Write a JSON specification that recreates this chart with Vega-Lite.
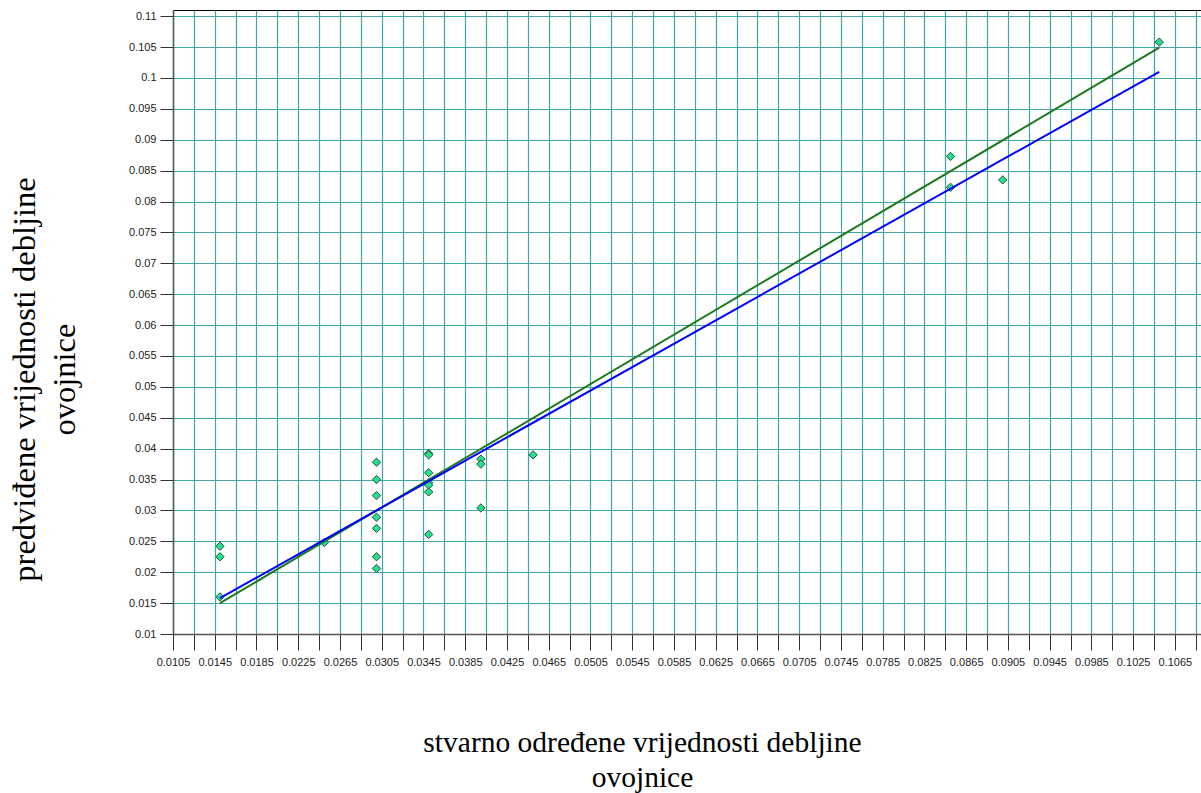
{
  "$schema": "https://vega.github.io/schema/vega-lite/v6.json",
  "width": 1028,
  "height": 624,
  "autosize": {"type": "none"},
  "padding": {"left": 173, "top": 10, "right": 0, "bottom": 159},
  "background": "white",
  "config": {
    "view": {"stroke": "#000000", "strokeWidth": 1},
    "axis": {
      "labelFont": "Liberation Sans Narrow, Liberation Sans",
      "labelFontSize": 11,
      "labelColor": "#222222",
      "titleFont": "Liberation Serif",
      "titleFontSize": 28,
      "titleFontWeight": "normal",
      "titleColor": "#000000",
      "gridColor": "#3fa6a3",
      "gridOpacity": 1,
      "gridWidth": 1.2,
      "tickColor": "#333333",
      "domainColor": "#555555",
      "domainWidth": 1.5,
      "labelOverlap": false,
      "labelFlush": false,
      "labelBound": false
    }
  },
  "datasets": {
    "points": [
      {"x": 0.015, "y": 0.0242},
      {"x": 0.015, "y": 0.0225},
      {"x": 0.015, "y": 0.0160},
      {"x": 0.025, "y": 0.0248},
      {"x": 0.030, "y": 0.0378},
      {"x": 0.030, "y": 0.0350},
      {"x": 0.030, "y": 0.0324},
      {"x": 0.030, "y": 0.0289},
      {"x": 0.030, "y": 0.0271},
      {"x": 0.030, "y": 0.0225},
      {"x": 0.030, "y": 0.0206},
      {"x": 0.035, "y": 0.0392},
      {"x": 0.035, "y": 0.0390},
      {"x": 0.035, "y": 0.0361},
      {"x": 0.035, "y": 0.0345},
      {"x": 0.035, "y": 0.0341},
      {"x": 0.035, "y": 0.0330},
      {"x": 0.035, "y": 0.0261},
      {"x": 0.040, "y": 0.0383},
      {"x": 0.040, "y": 0.0375},
      {"x": 0.040, "y": 0.0304},
      {"x": 0.045, "y": 0.0390},
      {"x": 0.085, "y": 0.0873},
      {"x": 0.085, "y": 0.0823},
      {"x": 0.090, "y": 0.0835},
      {"x": 0.105, "y": 0.1058}
    ],
    "lines": [
      {"x": 0.015, "y": 0.0150, "series": "green"},
      {"x": 0.105, "y": 0.1049, "series": "green"},
      {"x": 0.015, "y": 0.0158, "series": "blue"},
      {"x": 0.105, "y": 0.1010, "series": "blue"}
    ]
  },
  "encoding": {
    "x": {
      "field": "x",
      "type": "quantitative",
      "scale": {"domain": [0.0105, 0.109], "zero": false, "nice": false},
      "axis": {
        "values": [0.0105,0.0125,0.0145,0.0165,0.0185,0.0205,0.0225,0.0245,0.0265,0.0285,0.0305,0.0325,0.0345,0.0365,0.0385,0.0405,0.0425,0.0445,0.0465,0.0485,0.0505,0.0525,0.0545,0.0565,0.0585,0.0605,0.0625,0.0645,0.0665,0.0685,0.0705,0.0725,0.0745,0.0765,0.0785,0.0805,0.0825,0.0845,0.0865,0.0885,0.0905,0.0925,0.0945,0.0965,0.0985,0.1005,0.1025,0.1045,0.1065,0.1085],
        "labelExpr": "round((datum.value - 0.0105) / 0.002) % 2 == 0 ? format(datum.value, '.4f') : ''",
        "tickSize": 16,
        "labelPadding": 6,
        "title": ["stvarno određene vrijednosti debljine", "ovojnice"],
        "titleFont": "Liberation Serif",
        "titleFontSize": 29.5,
        "titleX": 469,
        "titleY": 117,
        "titleAnchor": "middle",
        "titleAlign": "center",
        "titleBaseline": "alphabetic",
        "titleLineHeight": 35
      }
    },
    "y": {
      "field": "y",
      "type": "quantitative",
      "scale": {"domain": [0.01, 0.111], "zero": false, "nice": false},
      "axis": {
        "values": [0.01,0.015,0.02,0.025,0.03,0.035,0.04,0.045,0.05,0.055,0.06,0.065,0.07,0.075,0.08,0.085,0.09,0.095,0.1,0.105,0.11],
        "format": "~g",
        "tickSize": 13,
        "labelPadding": 4,
        "title": ["predviđene vrijednosti debljine", "ovojnice"],
        "titleFont": "Liberation Serif",
        "titleFontSize": 32.5,
        "titleAngle": -90,
        "titleX": -139,
        "titleY": 369,
        "titleAlign": "center",
        "titleBaseline": "alphabetic",
        "titleLineHeight": 40
      }
    }
  },
  "layer": [
    {
      "data": {"name": "points"},
      "mark": {"type": "point", "shape": "diamond", "filled": true, "size": 70, "fill": "#1ee28c", "stroke": "#3a4a40", "strokeWidth": 1, "opacity": 1}
    },
    {
      "data": {"name": "lines"},
      "mark": {"type": "line", "strokeWidth": 2},
      "encoding": {
        "color": {
          "field": "series",
          "type": "nominal",
          "scale": {"domain": ["green", "blue"], "range": ["#1c7a1c", "#0000ff"]},
          "legend": null
        },
        "order": {"field": "x", "type": "quantitative"}
      }
    }
  ]
}
